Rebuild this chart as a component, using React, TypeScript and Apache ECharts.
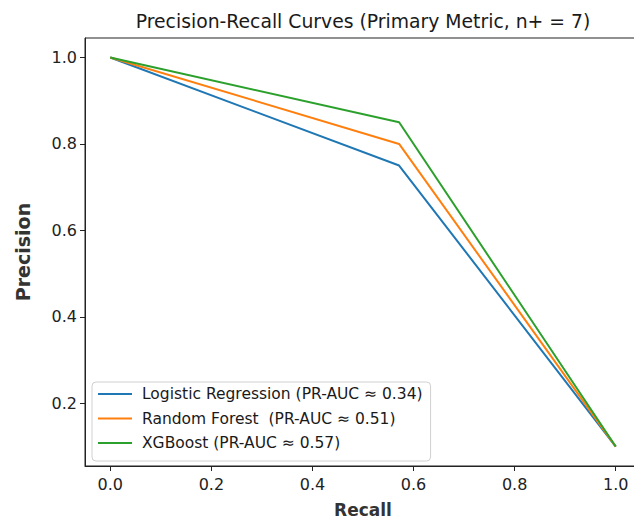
import React, { useEffect, useRef } from "react";
import * as echarts from "echarts";

const recall = [0, 4 / 7, 1.0];
const seriesNames = [
  "Logistic Regression (PR-AUC ≈ 0.34)",
  "Random Forest  (PR-AUC ≈ 0.51)",
  "XGBoost (PR-AUC ≈ 0.57)",
];
const precisionLR = [1.0, 0.75, 0.1];
const precisionRF = [1.0, 0.8, 0.1];
const precisionXGB = [1.0, 0.85, 0.1];
const colors = ["#1f77b4", "#ff7f0e", "#2ca02c"];
const xTicks = [0, 0.2, 0.4, 0.6, 0.8, 1.0];
const yTicks = [0.2, 0.4, 0.6, 0.8, 1.0];

const FONT = "DejaVu Sans";

export default function App() {
  const ref = useRef<HTMLDivElement>(null);
  useEffect(() => {
    if (!ref.current) return;
    const chart = echarts.init(ref.current, null, { renderer: "svg" });
    const all = [precisionLR, precisionRF, precisionXGB];
    chart.setOption({
      animation: false,
      backgroundColor: "#ffffff",
      title: {
        text: "Precision-Recall Curves (Primary Metric, n+ = 7)",
        left: 358,
        textAlign: "center",
        top: 7,
        textStyle: { fontFamily: FONT, fontSize: 18.8, fontWeight: "normal", color: "#1a1a1a" },
      },
      grid: {
        left: 85,
        top: 38,
        right: 1,
        bottom: 59,
        show: true,
        borderColor: "#222",
        borderWidth: 1,
        containLabel: false,
        outerBoundsMode: "none",
      },
      legend: {
        orient: "vertical",
        left: 92,
        top: 382,
        data: seriesNames,
        icon: "rect",
        itemWidth: 34,
        itemHeight: 2,
        itemGap: 6.5,
        padding: [3, 8, 9, 6],
        borderColor: "#d0d0d0",
        borderWidth: 1,
        borderRadius: 4,
        backgroundColor: "rgba(255,255,255,0.8)",
        textStyle: {
          fontFamily: FONT,
          fontSize: 15.5,
          color: "#1a1a1a",
          lineHeight: 18,
          padding: [0, 0, 0, 5],
        },
      },
      xAxis: {
        type: "value",
        min: -0.05,
        max: 1.05,
        name: "Recall",
        nameLocation: "middle",
        nameGap: 35,
        nameTextStyle: { fontFamily: FONT, fontSize: 17, fontWeight: "bold", color: "#333" },
        axisLine: { show: true, onZero: false, lineStyle: { color: "#222" } },
        axisTick: {
          show: true,
          length: 5,
          lineStyle: { color: "#222" },
          customValues: xTicks,
        },
        axisLabel: {
          fontFamily: FONT,
          fontSize: 16,
          color: "#222",
          margin: 10,
          customValues: xTicks,
          formatter: (v: number) => v.toFixed(1),
        },
        splitLine: { show: false },
      },
      yAxis: {
        type: "value",
        min: 0.055,
        max: 1.045,
        name: "Precision",
        nameLocation: "middle",
        nameGap: 53,
        nameTextStyle: { fontFamily: FONT, fontSize: 19, fontWeight: "bold", color: "#333" },
        axisLine: { show: true, onZero: false, lineStyle: { color: "#222" } },
        axisTick: {
          show: true,
          length: 5,
          lineStyle: { color: "#222" },
          customValues: yTicks,
        },
        axisLabel: {
          fontFamily: FONT,
          fontSize: 16,
          color: "#222",
          margin: 8,
          customValues: yTicks,
          formatter: (v: number) => v.toFixed(1),
        },
        splitLine: { show: false },
      },
      series: seriesNames.map((name, i) => ({
        name,
        type: "line",
        data: recall.map((r, j) => [r, all[i][j]]),
        showSymbol: false,
        symbol: "none",
        lineStyle: { color: colors[i], width: 2 },
        itemStyle: { color: colors[i] },
        z: 2 + i,
      })),
    });
    return () => chart.dispose();
  }, []);
  return <div ref={ref} style={{ width: 642, height: 525, margin: -8 }} />;
}
